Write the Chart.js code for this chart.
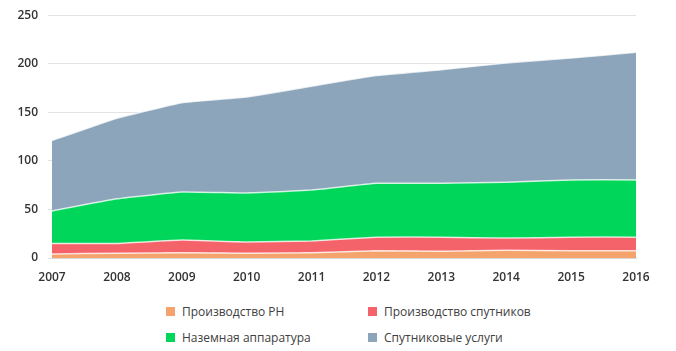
<!DOCTYPE html>
<html>
<head>
<meta charset="utf-8">
<script src="https://cdn.jsdelivr.net/npm/chart.js@4"></script>
<style>
  body { margin: 0; background: #fff; }
  #wrap { position: relative; width: 676px; height: 351px; }
  #box { position: absolute; left: 0; top: 0; width: 676px; height: 290px; }
  #legend { position: absolute; left: 166px; top: 304px; display: grid; grid-template-columns: 202px 200px; row-gap: 11px;
    font-family: "Open Sans", sans-serif; font-size: 12px; color: #404040; }
  #legend span.item { display: flex; align-items: center; height: 15px; }
  #legend span.sw { width: 9px; height: 9px; margin-right: 7px; display: inline-block; }
</style>
</head>
<body>
<div id="wrap">
  <div id="box"><canvas id="myChart"></canvas></div>
  <div id="legend"></div>
</div>
<script>
const years = ['2007', '2008', '2009', '2010', '2011', '2012', '2013', '2014', '2015', '2016'];

const launchers = [4, 5, 5.5, 5, 5.5, 7.5, 7, 8, 7.5, 7.5];
const satellites = [11, 10, 13, 11.5, 12, 14, 14.5, 12.5, 14, 14];
const ground = [33.5, 46, 49.5, 50.5, 52.5, 55.5, 55.5, 57.5, 59, 59];
const services = [72.5, 83, 92, 99, 107, 111, 117, 123, 125.5, 131.5];

const names = ['Производство РН', 'Производство спутников', 'Наземная аппаратура', 'Спутниковые услуги'];
const colors = ['#F5A36C', '#F5636A', '#00D65A', '#8CA5BA'];
const yTicks = [0, 50, 100, 150, 200, 250];

const series = [launchers, satellites, ground, services];

const ctx = document.getElementById('myChart');

new Chart(ctx, {
  type: 'line',
  data: {
    labels: years,
    datasets: series.map((d, i) => ({
      label: names[i],
      data: d,
      backgroundColor: colors[i],
      borderColor: 'rgba(255,255,255,0.75)',
      borderWidth: 1.5,
      pointRadius: 0,
      fill: i === 0 ? 'origin' : '-1',
      tension: 0.1
    }))
  },
  options: {
    responsive: true,
    maintainAspectRatio: false,
    animation: false,
    layout: { padding: { top: 15, right: 40, left: 0, bottom: 0 } },
    plugins: { legend: { display: false }, tooltip: { enabled: false } },
    scales: {
      x: {
        offset: false,
        grid: { display: false },
        border: { display: true, color: '#d9d9d9' },
        ticks: { padding: 4, color: '#333', font: { family: 'Open Sans', size: 12, weight: '600' }, maxRotation: 0 },
        afterFit: (s) => { s.height = 32; }
      },
      y: {
        stacked: true,
        min: 0,
        max: 250,
        afterBuildTicks: (s) => { s.ticks = yTicks.map(v => ({ value: v })); },
        grid: { color: '#e3e3e3', drawTicks: true, tickLength: 4 },
        border: { display: false },
        ticks: { padding: 10, color: '#333', font: { family: 'Open Sans', size: 12, weight: '600', lineHeight: 0.9 } },
        afterFit: (s) => { s.width = 52; }
      }
    }
  }
});

const legend = document.getElementById('legend');
names.forEach((n, i) => {
  const it = document.createElement('span');
  it.className = 'item';
  it.innerHTML = '<span class="sw" style="background:' + colors[i] + '"></span>' + n;
  legend.appendChild(it);
});
</script>
</body>
</html>
